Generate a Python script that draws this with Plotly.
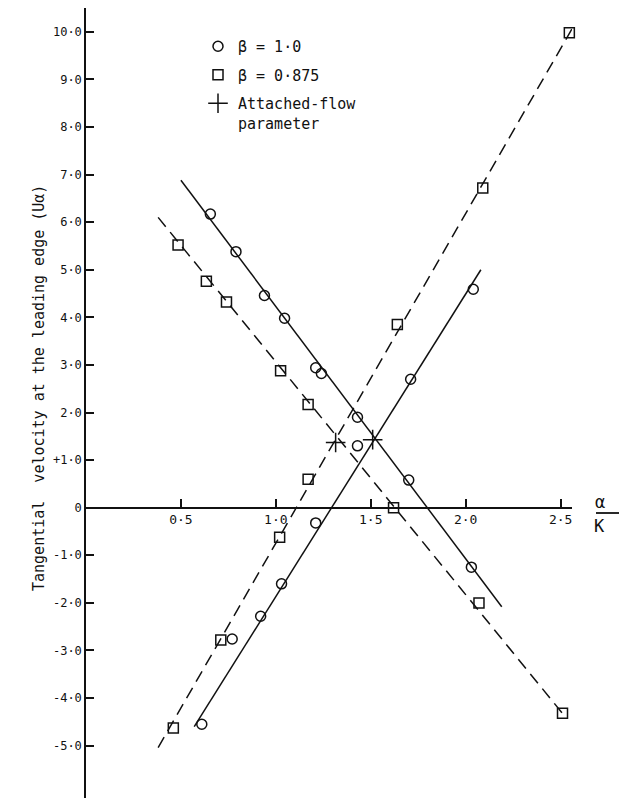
import plotly.graph_objects as go

# ---- data ----
beta1_x = [0.655, 0.79, 0.94, 1.046, 1.21, 1.24, 1.43, 1.43, 1.70, 2.03,
           1.21, 1.03, 0.92, 0.77, 0.61, 1.71, 2.04]
beta1_y = [6.17, 5.38, 4.46, 3.98, 2.94, 2.82, 1.90, 1.30, 0.58, -1.25,
           -0.32, -1.60, -2.28, -2.76, -4.55, 2.70, 4.59]

beta0875_x = [0.485, 0.634, 0.74, 1.025, 1.17, 1.62, 2.07, 2.51,
              0.46, 0.71, 1.02, 1.17, 1.64, 2.09, 2.546]
beta0875_y = [5.52, 4.76, 4.32, 2.88, 2.17, 0.0, -2.0, -4.32,
              -4.63, -2.78, -0.62, 0.60, 3.85, 6.72, 9.98]

attached_x = [1.315, 1.51]
attached_y = [1.37, 1.43]

# fitted straight lines (end points)
solid_down_x = [0.50, 2.19]
solid_down_y = [6.88, -2.08]
solid_up_x = [0.57, 2.08]
solid_up_y = [-4.60, 5.00]
dash_down_x = [0.38, 2.53]
dash_down_y = [6.10, -4.42]
dash_up_x = [0.38, 2.59]
dash_up_y = [-5.04, 10.27]

x_tickvals = [0.5, 1.0, 1.5, 2.0, 2.5]
x_ticktext = ["0·5", "1·0", "1·5", "2·0", "2·5"]
y_tickvals = [10, 9, 8, 7, 6, 5, 4, 3, 2, 1, 0, -1, -2, -3, -4, -5]
y_ticktext = ["10·0", "9·0", "8·0", "7·0", "6·0", "5·0", "4·0", "3·0", "2·0",
              "+1·0", "0", "-1·0", "-2·0", "-3·0", "-4·0", "-5·0"]

X_RANGE = [0, 2.56]
Y_RANGE = [-6.1, 10.5]

FONT = "DejaVu Sans Mono"
INK = "#111111"

fig = go.Figure()

for lx, ly, dash in [(solid_down_x, solid_down_y, "solid"),
                     (solid_up_x, solid_up_y, "solid"),
                     (dash_down_x, dash_down_y, "12px,7px"),
                     (dash_up_x, dash_up_y, "12px,7px")]:
    fig.add_trace(go.Scatter(x=lx, y=ly, mode="lines", showlegend=False,
                             line=dict(color=INK, width=1.5, dash=dash),
                             hoverinfo="skip"))

fig.add_trace(go.Scatter(x=beta1_x, y=beta1_y, mode="markers", name="β = 1·0",
                         legendgroup="a", cliponaxis=False,
                         marker=dict(symbol="circle-open", size=10, color=INK,
                                     line=dict(width=1.5, color=INK))))
fig.add_trace(go.Scatter(x=beta0875_x, y=beta0875_y, mode="markers", name="β = 0·875",
                         legendgroup="b", cliponaxis=False,
                         marker=dict(symbol="square-open", size=10, color=INK,
                                     line=dict(width=1.5, color=INK))))
fig.add_trace(go.Scatter(x=attached_x, y=attached_y, mode="markers",
                         name="Attached-flow<br>parameter", legendgroup="c",
                         cliponaxis=False,
                         marker=dict(symbol="cross-thin", size=14, color=INK,
                                     line=dict(width=1.5, color=INK))))

# plot area geometry (pixels)
W, H = 630, 801
ML, MR, MT, MB = 86, 58, 8, 3
pw = W - ML - MR
ph = H - MT - MB
xaxis_pos = (0 - Y_RANGE[0]) / (Y_RANGE[1] - Y_RANGE[0])


def px_to_paper(px, py):
    return (px - ML) / pw, (H - MB - py) / ph


fig.update_layout(
    width=W, height=H,
    margin=dict(l=ML, r=MR, t=MT, b=MB),
    paper_bgcolor="white", plot_bgcolor="white",
    font=dict(family=FONT, size=12, color=INK),
    xaxis=dict(range=X_RANGE, anchor="free", position=xaxis_pos,
               showline=True, linecolor=INK, linewidth=1.5,
               ticks="inside", ticklen=8, tickwidth=1.5, tickcolor=INK,
               tickvals=x_tickvals, ticktext=x_ticktext,
               showgrid=False, zeroline=False,
               tickfont=dict(family=FONT, size=13, color=INK)),
    yaxis=dict(range=Y_RANGE, showline=True, linecolor=INK, linewidth=1.5,
               ticks="inside", ticklen=8, tickwidth=1.5, tickcolor=INK,
               tickvals=y_tickvals, ticktext=y_ticktext,
               showgrid=False, zeroline=False,
               tickfont=dict(family=FONT, size=12, color=INK)),
    legend=dict(x=px_to_paper(198, 0)[0], y=px_to_paper(0, 30)[1],
                xanchor="left", yanchor="top",
                font=dict(family=FONT, size=15, color=INK),
                bgcolor="rgba(0,0,0,0)", traceorder="grouped",
                tracegroupgap=6, valign="top"),
)

# y-axis title
tx, ty = px_to_paper(28, 388)
fig.add_annotation(x=tx, y=ty, xref="paper", yref="paper",
                   text="Tangential  velocity at the leading edge (Uα)",
                   textangle=-90, showarrow=False,
                   font=dict(family=FONT, size=15, color=INK))

# x-axis label α / K
ax_, ay_ = px_to_paper(607, 502)
kx_, ky_ = px_to_paper(607, 526)
fig.add_annotation(x=ax_, y=ay_, xref="paper", yref="paper", text="α",
                   showarrow=False, font=dict(family=FONT, size=17, color=INK))
fig.add_annotation(x=kx_, y=ky_, xref="paper", yref="paper", text="K",
                   showarrow=False, font=dict(family=FONT, size=17, color=INK))
bx0, by = px_to_paper(596, 513)
bx1, _ = px_to_paper(619, 513)
fig.add_shape(type="line", xref="paper", yref="paper", x0=bx0, x1=bx1,
              y0=by, y1=by, line=dict(color=INK, width=1.8))

fig.write_html("out.html")
